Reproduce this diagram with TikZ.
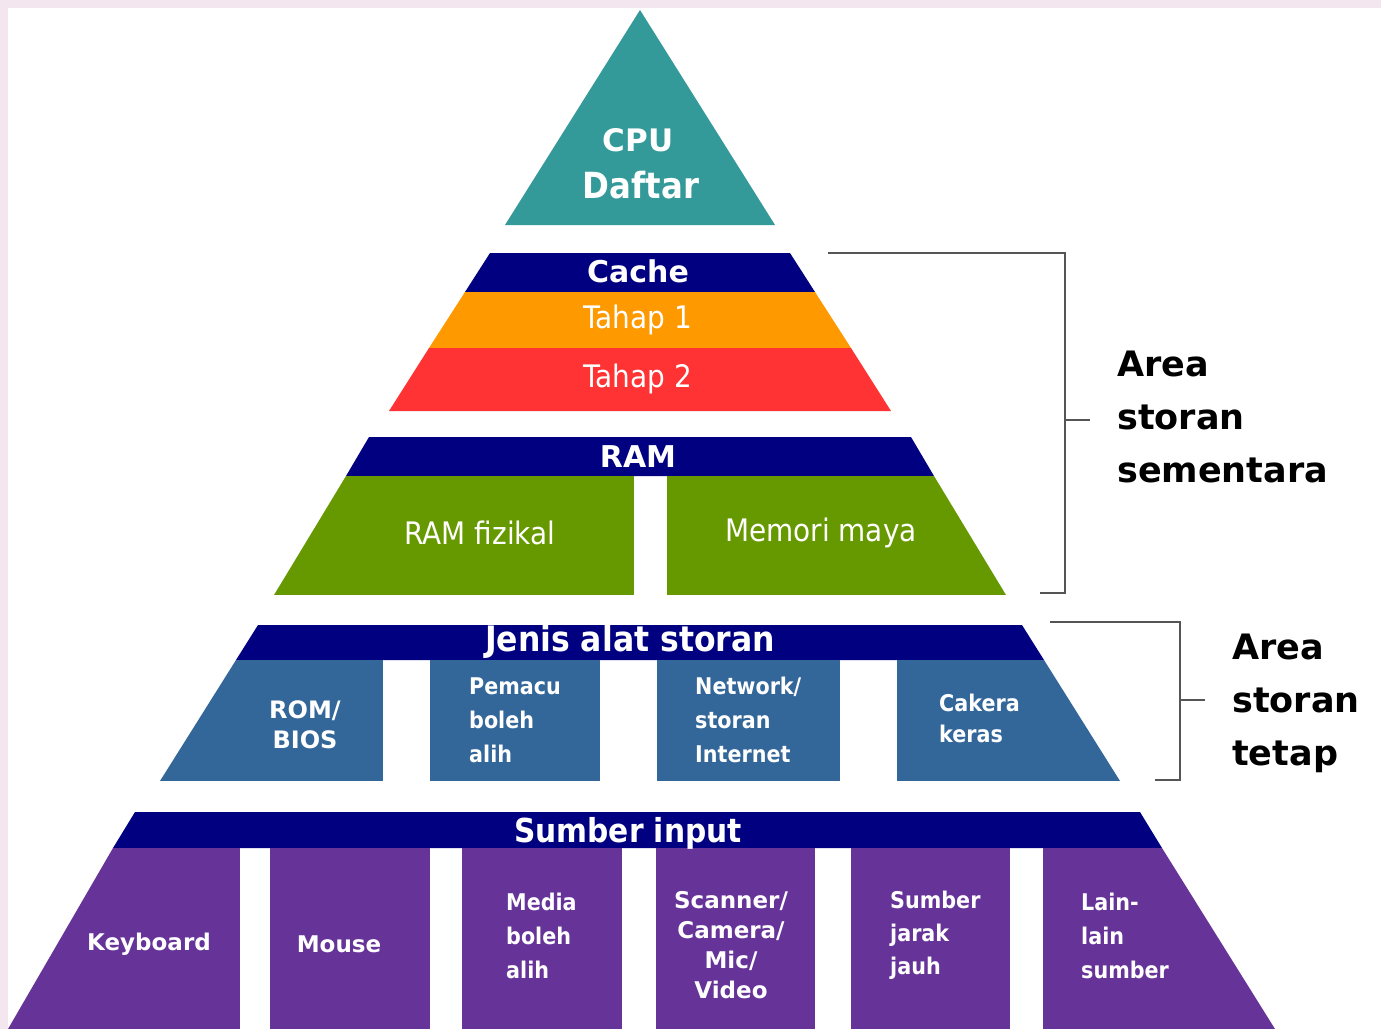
\documentclass[tikz,border=0pt]{standalone}
\usepackage{fontspec}
\setmainfont{DejaVu Sans}
\newfontfamily\condfont{DejaVu Sans Condensed}
\usepackage{tikz}
\usetikzlibrary{positioning}
\definecolor{framepink}{HTML}{F3E6EE}
\definecolor{cputeal}{HTML}{339999}
\definecolor{bandnavy}{HTML}{000080}
\definecolor{cacheorange}{HTML}{FF9900}
\definecolor{cachered}{HTML}{FF3333}
\definecolor{ramgreen}{HTML}{669900}
\definecolor{storeblue}{HTML}{336699}
\definecolor{inputpurple}{HTML}{663399}
\definecolor{bracketgray}{HTML}{555555}
\tikzset{
  bandtext/.style={
    text=white, inner sep=0pt,
    font=\bfseries\fontsize{30}{32}\selectfont
  },
  bandtitle/.style={
    text=white, inner sep=0pt,
    font=\condfont\bfseries\fontsize{35}{38}\selectfont
  },
  layertext/.style={
    text=white, inner sep=0pt,
    font=\condfont\fontsize{31}{34}\selectfont
  },
  celltext/.style={
    text=white, inner sep=0pt, align=left, anchor=west,
    font=\condfont\bfseries\fontsize{23}{34}\selectfont
  },
  cellwide/.style={
    text=white, inner sep=0pt, align=center,
    font=\bfseries\fontsize{23}{30}\selectfont
  },
  arealabel/.style={
    text=black, inner sep=0pt, align=left, anchor=west,
    font=\bfseries\fontsize{35}{53}\selectfont
  },
  bracketline/.style={draw=bracketgray, line width=2.5pt},
}
\begin{document}
\begin{tikzpicture}[x=1pt, y=-1pt]
  \useasboundingbox (0,0) rectangle (1381,1029);

  % ---- frame ----
  \fill[white] (0,0) rectangle (1381,1029);

  % ---- CPU ----
  \fill[cputeal] (640,10) -- (775,225) -- (505,225) -- cycle;
  \node[bandtext, font=\bfseries\fontsize{31}{32}\selectfont] (cpu) at (638,140) {CPU};
  \node[bandtitle, font=\condfont\bfseries\fontsize{36}{38}\selectfont] (daftar) at (641,185) {Daftar};

  % ---- Cache ----
  \fill[bandnavy] (490,253) -- (790,253) -- (815,292) -- (465,292) -- cycle;
  \fill[cacheorange] (465,292) -- (815,292) -- (851,348) -- (429,348) -- cycle;
  \fill[cachered] (429,348) -- (851,348) -- (891,411) -- (389,411) -- cycle;
  \node[bandtext] (cache) at (638,271) {Cache};
  \node[layertext] (tahap1) at (638,320) {Tahap 1};
  \node[layertext] (tahap2) at (638,379) {Tahap 2};

  % ---- RAM ----
  \fill[bandnavy] (369,437) -- (911,437) -- (934,476) -- (346,476) -- cycle;
  \begin{scope}
    \clip (346,476) -- (934,476) -- (1006,595) -- (274,595) -- cycle;
    \fill[ramgreen] (260,476) rectangle (634,595);
    \fill[ramgreen] (667,476) rectangle (1020,595);
  \end{scope}
  \node[bandtext] (ram) at (638,457) {RAM};
  \node[layertext] (ramfiz) at (480,533) {RAM fizikal};
  \node[layertext] (memori) at (821,533) {Memori maya};

  % ---- Storan ----
  \fill[bandnavy] (258,625) -- (1022,625) -- (1044,660) -- (236,660) -- cycle;
  \begin{scope}
    \clip (236,660) -- (1044,660) -- (1120,781) -- (160,781) -- cycle;
    \foreach \xa/\xb in {150/383, 430/600, 657/840, 897/1130}
      \fill[storeblue] (\xa,660) rectangle (\xb,781);
  \end{scope}
  \node[bandtitle] (jenis) at (630,642) {Jenis alat storan};
  \node[cellwide, font=\bfseries\fontsize{24}{30}\selectfont] (rom) at (305,725) {ROM/\\BIOS};
  \node[celltext] (pemacu) at (469,720) {Pemacu\\boleh\\alih};
  \node[celltext] (network) at (695,720) {Network/\\storan\\Internet};
  \node[celltext, font=\condfont\bfseries\fontsize{23}{31}\selectfont] (cakera) at (939,718) {Cakera\\keras};

  % ---- Sumber input ----
  \fill[bandnavy] (135,812) -- (1140,812) -- (1162,848) -- (113,848) -- cycle;
  \begin{scope}
    \clip (113,848) -- (1162,848) -- (1275,1029) -- (8,1029) -- cycle;
    \foreach \xa/\xb in {0/240, 270/430, 462/622, 656/815, 851/1010, 1043/1290}
      \fill[inputpurple] (\xa,848) rectangle (\xb,1029);
  \end{scope}
  \node[bandtitle, font=\condfont\bfseries\fontsize{33}{36}\selectfont] (sumber) at (628,833) {Sumber input};
  \node[cellwide] (keyboard) at (149,944) {Keyboard};
  \node[cellwide] (mouse) at (339,944) {Mouse};
  \node[celltext] (media) at (506,936) {Media\\boleh\\alih};
  \node[cellwide] (scanner) at (731,945) {Scanner/\\Camera/\\Mic/\\Video};
  \node[celltext, font=\condfont\bfseries\fontsize{23}{33}\selectfont] (jarak) at (890,935) {Sumber\\jarak\\jauh};
  \node[celltext] (lain) at (1081,936) {Lain-\\lain\\sumber};

  % ---- brackets ----
  \coordinate (semtop) at (828,253);
  \coordinate (semmid) at (1090,420);
  \coordinate (sembot) at (1040,593);
  \draw[bracketline] (semtop) -| (1065,593) -- (sembot);
  \draw[bracketline] (1065,420) -- (semmid);
  \node[arealabel] (sementara) at (1117,417) {Area\\storan\\sementara};

  \coordinate (tettop) at (1050,622);
  \coordinate (tetmid) at (1205,700);
  \coordinate (tetbot) at (1155,780);
  \draw[bracketline] (tettop) -| (1180,780) -- (tetbot);
  \draw[bracketline] (1180,700) -- (tetmid);
  \node[arealabel] (tetap) at (1232,703) {Area\\storan\\tetap};

  % ---- border ----
  \fill[framepink] (0,0) rectangle (1381,8);
  \fill[framepink] (0,0) rectangle (8,1029);
\end{tikzpicture}
\end{document}
